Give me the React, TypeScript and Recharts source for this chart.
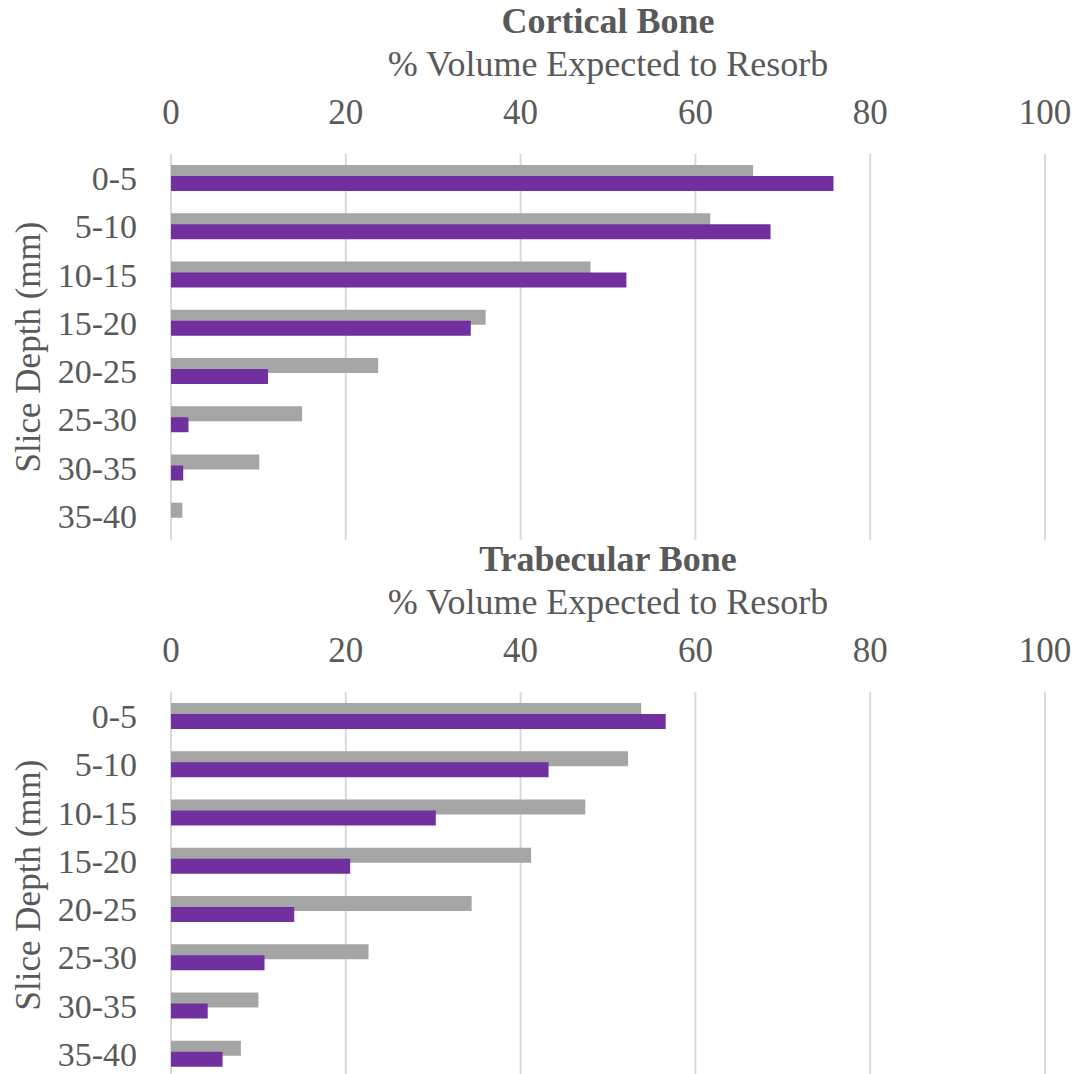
import { Bar, BarChart, CartesianGrid, XAxis, YAxis } from "recharts";

const categories = ["0-5", "5-10", "10-15", "15-20", "20-25", "25-30", "30-35", "35-40"];
const xTicks = [0, 20, 40, 60, 80, 100];

const corticalGray = [66.6, 61.7, 48.0, 36.0, 23.7, 15.0, 10.1, 1.3];
const corticalPurple = [75.8, 68.6, 52.1, 34.3, 11.1, 2.0, 1.4, 0];

const trabecularGray = [53.8, 52.3, 47.4, 41.2, 34.4, 22.6, 10.0, 8.0];
const trabecularPurple = [56.6, 43.2, 30.3, 20.5, 14.1, 10.7, 4.2, 5.9];

const FONT = '"Liberation Serif", "Times New Roman", serif';
const TEXT = "#595959";
const GRAY = "#a5a5a5";
const PURPLE = "#7030a0";

const BLOCK = 538;

function buildRows(gray: number[], purple: number[]) {
  return categories.map((cat, i) => ({ cat, gray: gray[i], purple: purple[i] }));
}

function DepthChart({ gray, purple }: { gray: number[]; purple: number[] }) {
  const data = buildRows(gray, purple);
  return (
    <BarChart
      width={1076}
      height={545}
      data={data}
      layout="vertical"
      margin={{ top: 124, right: 31, left: 5, bottom: 5 }}
      barSize={15}
      barGap={-4}
    >
      <CartesianGrid horizontal={false} stroke="#d9d9d9" strokeWidth={2} />
      <XAxis
        type="number"
        orientation="top"
        domain={[0, 100]}
        ticks={xTicks}
        height={30}
        axisLine={false}
        tickLine={false}
        tickSize={0}
        tickMargin={30}
        tick={{ fill: TEXT, fontSize: 35, fontFamily: FONT }}
      />
      <YAxis
        type="category"
        dataKey="cat"
        width={166}
        axisLine={false}
        tickLine={false}
        tickSize={0}
        tickMargin={34}
        interval={0}
        tick={{ fill: TEXT, fontSize: 34, fontFamily: FONT }}
      />
      <Bar dataKey="gray" fill={GRAY} isAnimationActive={false} />
      <Bar dataKey="purple" fill={PURPLE} isAnimationActive={false} />
    </BarChart>
  );
}

function Titles({ title, offset }: { title: string; offset: number }) {
  return (
    <g fontFamily={FONT} fill={TEXT}>
      <text x={608} y={33 + offset} textAnchor="middle" fontSize={36} fontWeight="bold">
        {title}
      </text>
      <text x={608} y={76 + offset} textAnchor="middle" fontSize={36}>
        % Volume Expected to Resorb
      </text>
      <text
        x={40}
        y={347 + offset}
        textAnchor="middle"
        fontSize={35}
        transform={`rotate(-90, 40, ${347 + offset})`}
      >
        Slice Depth (mm)
      </text>
    </g>
  );
}

export default function App() {
  return (
    <div
      style={{
        position: "absolute",
        left: 0,
        top: 0,
        width: 1076,
        height: 1074,
        overflow: "hidden",
        background: "#ffffff",
      }}
    >
      <div style={{ position: "absolute", left: 0, top: 0 }}>
        <DepthChart gray={corticalGray} purple={corticalPurple} />
      </div>
      <div style={{ position: "absolute", left: 0, top: BLOCK }}>
        <DepthChart gray={trabecularGray} purple={trabecularPurple} />
      </div>
      <svg
        width={1076}
        height={1074}
        style={{ position: "absolute", left: 0, top: 0, pointerEvents: "none" }}
      >
        <Titles title="Cortical Bone" offset={0} />
        <Titles title="Trabecular Bone" offset={BLOCK} />
      </svg>
    </div>
  );
}
